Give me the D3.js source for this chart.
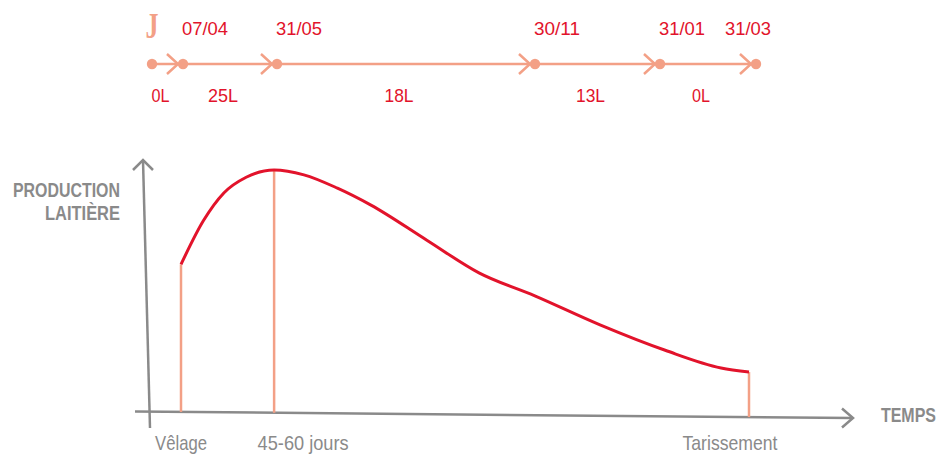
<!DOCTYPE html>
<html>
<head>
<meta charset="utf-8">
<script src="https://cdn.jsdelivr.net/npm/d3@7"></script>
<style>
  html, body { margin: 0; padding: 0; background: #fff; }
  svg { display: block; }
  text { font-family: "Liberation Sans", Arial, sans-serif; }
</style>
</head>
<body>
<svg id="chart" width="941" height="454"></svg>
<script>
// Timeline (top)
const nodeLabels = ["J", "07/04", "31/05", "30/11", "31/01", "31/03"];
const segmentLabels = ["0L", "25L", "18L", "13L", "0L"];

// Lactation curve: days after calving vs relative milk production
const days = [0, 12, 23, 35, 50, 66, 84, 102, 132, 160, 190, 225, 260, 290, 305];
const production = [61, 79, 90.5, 97, 100, 98, 92.5, 85.5, 71, 57.5, 48, 36, 25.5, 18.2, 16.5];

// Stage markers
const stageLabels = ["Vêlage", "45-60 jours", "Tarissement"];
const stageDays = [0, 50, 305];

const RED = "#e2132b";
const SALMON = "#f3a086";
const GREY = "#8a8a8a";

// layout helpers (condensed look via textLength)
const stageWidths = [52, 91, 95];
const segWidths = [18, 30, 29, 29, 18];

const svg = d3.select("#chart");

// ---- timeline ----
const tx = d3.scaleLinear().domain(d3.range(nodeLabels.length)).range([152, 183, 277, 535, 660, 756]);
const TY = 64;
const tl = svg.append("g");

tl.append("line")
  .attr("x1", tx(0)).attr("x2", tx(nodeLabels.length - 1))
  .attr("y1", TY).attr("y2", TY)
  .attr("stroke", SALMON).attr("stroke-width", 2.5);

// chevrons before each node except the first
tl.selectAll("path.chev")
  .data(nodeLabels.slice(1))
  .join("path")
  .attr("class", "chev")
  .attr("d", (d, i) => {
    const x = tx(i + 1) - 5;
    return `M${x - 11},${TY - 10} L${x},${TY} L${x - 11},${TY + 10}`;
  })
  .attr("fill", "none").attr("stroke", SALMON).attr("stroke-width", 2.5);

tl.selectAll("circle")
  .data(nodeLabels)
  .join("circle")
  .attr("cx", (d, i) => tx(i)).attr("cy", TY).attr("r", 5.2)
  .attr("fill", SALMON);

tl.selectAll("text.node")
  .data(nodeLabels.slice(1))
  .join("text")
  .attr("class", "node")
  .attr("x", (d, i) => tx(i + 1) + (i === nodeLabels.length - 2 ? -8 : 22))
  .attr("y", 35)
  .attr("text-anchor", "middle")
  .attr("fill", RED)
  .style("font-size", "18px")
  .attr("textLength", 46).attr("lengthAdjust", "spacingAndGlyphs")
  .text(d => d);

// the "J" mark
tl.append("text")
  .attr("x", tx(0)).attr("y", 38)
  .attr("text-anchor", "middle")
  .attr("fill", SALMON)
  .style("font-family", "'Liberation Serif', serif")
  .style("font-weight", "bold").style("font-size", "36px")
  .attr("textLength", 13).attr("lengthAdjust", "spacingAndGlyphs")
  .text(nodeLabels[0]);

tl.selectAll("text.seg")
  .data(segmentLabels)
  .join("text")
  .attr("class", "seg")
  .attr("x", (d, i) => (tx(i) + tx(i + 1)) / 2 - 7)
  .attr("y", 102)
  .attr("text-anchor", "middle")
  .attr("fill", RED)
  .style("font-size", "19px")
  .attr("textLength", (d, i) => segWidths[i]).attr("lengthAdjust", "spacingAndGlyphs")
  .text(d => d);

// ---- lactation chart ----
const x = d3.scaleLinear().domain([0, 305]).range([181, 749]);
const y = d3.scaleLinear().domain([0, 100]).range([412, 170]);
// axis baseline slopes slightly down to the right
const axisY = px => 411.5 + (px - 135) * (6.5 / 718);

const g = svg.append("g");

// axes
g.append("line").attr("x1", 135).attr("y1", axisY(135)).attr("x2", 853).attr("y2", axisY(853))
  .attr("stroke", GREY).attr("stroke-width", 2.5);
g.append("path").attr("d", `M842,${axisY(853) - 9.5} L853,${axisY(853)} L842,${axisY(853) + 9.5}`)
  .attr("fill", "none").attr("stroke", GREY).attr("stroke-width", 2.5);
g.append("line").attr("x1", 150).attr("y1", 428).attr("x2", 143).attr("y2", 160)
  .attr("stroke", GREY).attr("stroke-width", 2.5);
g.append("path").attr("d", "M133,170 L143,160 L153,170")
  .attr("fill", "none").attr("stroke", GREY).attr("stroke-width", 2.5);

// stage markers
const curve = d3.line().x((d, i) => x(days[i])).y(d => y(d)).curve(d3.curveMonotoneX);
const prodAt = d => production[days.indexOf(d)];

g.selectAll("line.stage")
  .data(stageDays)
  .join("line")
  .attr("class", "stage")
  .attr("x1", d => x(d)).attr("x2", d => x(d))
  .attr("y1", d => y(prodAt(d))).attr("y2", d => axisY(x(d)))
  .attr("stroke", SALMON).attr("stroke-width", 2.5);

g.append("path")
  .datum(production)
  .attr("d", curve)
  .attr("fill", "none").attr("stroke", RED).attr("stroke-width", 3);

g.selectAll("text.stage")
  .data(stageLabels)
  .join("text")
  .attr("class", "stage")
  .attr("x", (d, i) => x(stageDays[i]) + [0, 29, -19][i])
  .attr("y", 450)
  .attr("text-anchor", "middle")
  .attr("fill", GREY)
  .style("font-size", "21px")
  .attr("textLength", (d, i) => stageWidths[i]).attr("lengthAdjust", "spacingAndGlyphs")
  .text(d => d);

// axis titles
const ttl = g.append("g").attr("fill", GREY)
  .style("font-size", "20.5px").style("font-weight", "bold");
ttl.append("text").attr("x", 120).attr("y", 197).attr("text-anchor", "end")
  .attr("textLength", 107).attr("lengthAdjust", "spacingAndGlyphs").text("PRODUCTION");
ttl.append("text").attr("x", 120).attr("y", 220).attr("text-anchor", "end")
  .attr("textLength", 75).attr("lengthAdjust", "spacingAndGlyphs").text("LAITIÈRE");

// TEMPS: small font stretched vertically so its natural width fits the frame
g.append("text")
  .attr("transform", "translate(936,422) scale(1,1.3)")
  .attr("text-anchor", "end").attr("fill", GREY)
  .style("font-size", "16px").style("font-weight", "bold")
  .text("TEMPS");
</script>
</body>
</html>
